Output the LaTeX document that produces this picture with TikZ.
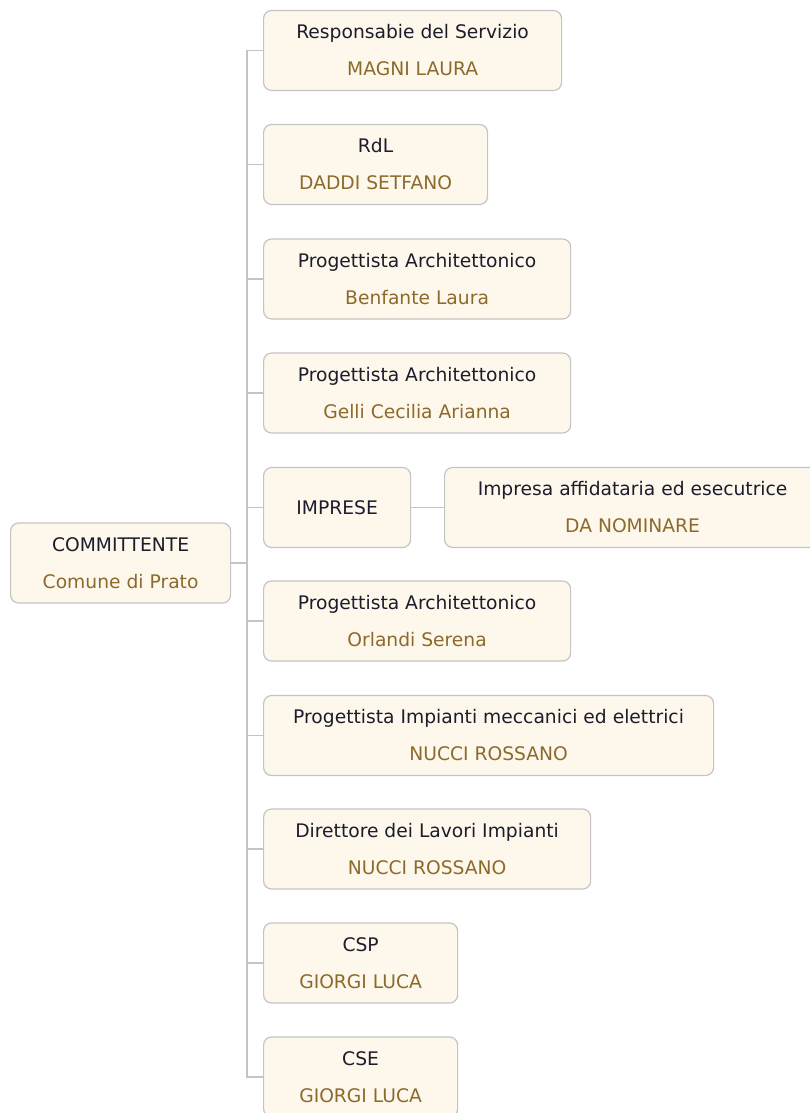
\documentclass[tikz,border=0pt]{standalone}
\usepackage{fontspec}
\setmainfont{DejaVu Sans}
\usetikzlibrary{positioning}
\definecolor{boxfill}{HTML}{FEF8EC}
\definecolor{boxline}{HTML}{C4C4C4}
\definecolor{nomecol}{HTML}{8C6A2C}
\definecolor{titolo}{HTML}{1C1C2C}
\newcommand{\nome}[1]{\textcolor{nomecol}{#1}}

\begin{document}
\begin{tikzpicture}[x=1pt,y=-1pt,semithick]
  \tikzstyle{ruolo}=[draw=boxline,fill=boxfill,rounded corners=8pt,line width=1.2pt,
    minimum height=80pt,anchor=west,align=center,inner sep=0pt,text=titolo,
    font=\fontsize{18.7}{37}\selectfont]
  \tikzstyle{ramo}=[draw=boxline,line width=1.2pt]

  \useasboundingbox (0,0) rectangle (809,1113);

  \node[ruolo,minimum width=220pt]	(comm)   at (10,563)    {COMMITTENTE\\\nome{Comune di Prato}};

  \node[ruolo,minimum width=298pt]	(resp)   at (263,50.5)  {Responsabie del Servizio\\\nome{MAGNI LAURA}};
  \node[ruolo,minimum width=224pt]	(rdl)    at (263,164.5) {RdL\\\nome{DADDI SETFANO}};
  \node[ruolo,minimum width=307pt]	(parch1) at (263,279)   {Progettista Architettonico\\\nome{Benfante Laura}};
  \node[ruolo,minimum width=307pt]	(parch2) at (263,393)   {Progettista Architettonico\\\nome{Gelli Cecilia Arianna}};
  \node[ruolo,minimum width=147pt]	(imprese) at (263,507.5) {IMPRESE};
  \node[ruolo,minimum width=376pt]	(impresa) at (444,507.5) {Impresa affidataria ed esecutrice\\\nome{DA NOMINARE}};
  \node[ruolo,minimum width=307pt]	(parch3) at (263,621)   {Progettista Architettonico\\\nome{Orlandi Serena}};
  \node[ruolo,minimum width=450pt]	(pimp)   at (263,735.5) {Progettista Impianti meccanici ed elettrici\\\nome{NUCCI ROSSANO}};
  \node[ruolo,minimum width=327pt]	(dlimp)  at (263,849)   {Direttore dei Lavori Impianti\\\nome{NUCCI ROSSANO}};
  \node[ruolo,minimum width=194pt]	(csp)    at (263,963)   {CSP\\\nome{GIORGI LUCA}};
  \node[ruolo,minimum width=194pt]	(cse)    at (263,1077)  {CSE\\\nome{GIORGI LUCA}};

  % albero
  \draw[ramo] (resp.west) -- ++(-16,0) |- (cse.west);
  \foreach \n in {rdl,parch1,parch2,imprese,parch3,pimp,dlimp,csp}
    \draw[ramo] (\n.west) -- ++(-16,0);
  \draw[ramo] (comm.east) -- ++(17,0);
  \draw[ramo] (imprese.east) -- (impresa.west);

\end{tikzpicture}
\end{document}
